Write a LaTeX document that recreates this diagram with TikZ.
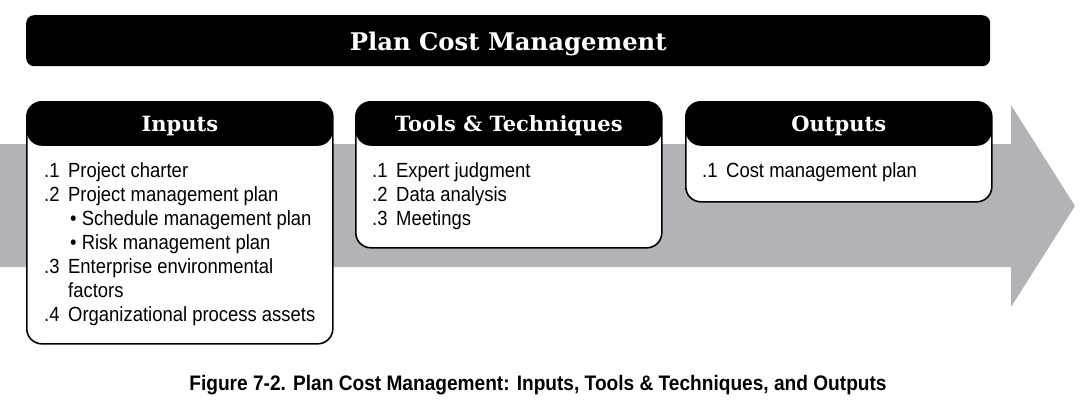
\documentclass[tikz,border=0pt]{standalone}
\usepackage{fontspec}
\usepackage{tikz}
\setmainfont{Liberation Sans}[FakeStretch=0.9]
\newfontfamily\hdrfont{DejaVu Serif}
\newfontfamily\capfont{Liberation Sans}[FakeStretch=0.91]
\definecolor{arrowgray}{HTML}{B1B3B6}
\newcommand{\itm}[1]{\makebox[24pt][l]{#1}}

\begin{document}
\begin{tikzpicture}[x=1pt,y=-1pt]
            \tikzstyle{titlebar}=[fill=black,rounded corners=8pt,anchor=north west,text=white,font={\hdrfont\bfseries\fontsize{24.3}{28}\selectfont}]
            \tikzstyle{panel}=[draw=black,line width=1.6pt,fill=white,rounded corners=15pt,anchor=north west,minimum width=306pt,
                path picture={\fill[black] (path picture bounding box.north west) rectangle ([yshift=-44pt]path picture bounding box.north east);}]
            \tikzstyle{hdr}=[text=white,font={\hdrfont\bfseries\fontsize{21}{24}\selectfont}]
            \tikzstyle{body}=[anchor=base west,inner sep=0pt,align=left,font={\fontsize{20.5}{24}\selectfont}]
            \useasboundingbox (0,0) rectangle (1088,410);
            \fill[arrowgray] (0,144) -- (1011,144) -- (1011,105) -- (1075,206) -- (1011,307) -- (1011,267) -- (0,267) -- cycle;
            \node[titlebar,minimum width=964pt,minimum height=51pt] (title) at (26,15) {};
            \node[text=white,font={\hdrfont\bfseries\fontsize{24.3}{28}\selectfont}] (title-txt) at ([yshift=-3pt]title.center) {Plan Cost Management};
            \node[panel,minimum height=242pt] (inputs) at (26,101) {};
            \node[panel,minimum height=146pt] (tools) at (355,101) {};
            \node[panel,minimum height=100pt] (outputs) at (685,101) {};
            \node[hdr] (inputs-hdr) at ([yshift=-25pt]inputs.north) {Inputs};
            \node[hdr] (tools-hdr) at ([yshift=-25pt]tools.north) {Tools \& Techniques};
            \node[hdr] (outputs-hdr) at ([yshift=-25pt]outputs.north) {Outputs};
            \node[body] (inputs-txt) at (44,177.5) {\begin{tabular}[t]{@{}l@{}}
                \itm{.1}Project charter\\
                \itm{.2}Project management plan\\
                \itm{}\hspace{2pt}\textbullet\ Schedule management plan\\
                \itm{}\hspace{2pt}\textbullet\ Risk management plan\\
                \itm{.3}Enterprise environmental\\
                \itm{}factors\\
                \itm{.4}Organizational process assets
                \end{tabular}};
            \node[body] (tools-txt) at (372,177.5) {\begin{tabular}[t]{@{}l@{}}
                \itm{.1}Expert judgment\\
                \itm{.2}Data analysis\\
                \itm{.3}Meetings
                \end{tabular}};
            \node[body] (outputs-txt) at (702,177.5) {\begin{tabular}[t]{@{}l@{}}
                \itm{.1}Cost management plan
                \end{tabular}};
            \node[font={\capfont\bfseries\fontsize{21}{25}\selectfont}] (caption) at (538,385) {Figure 7-2. Plan Cost Management: Inputs, Tools \& Techniques, and Outputs};
        \end{tikzpicture}
\end{document}
